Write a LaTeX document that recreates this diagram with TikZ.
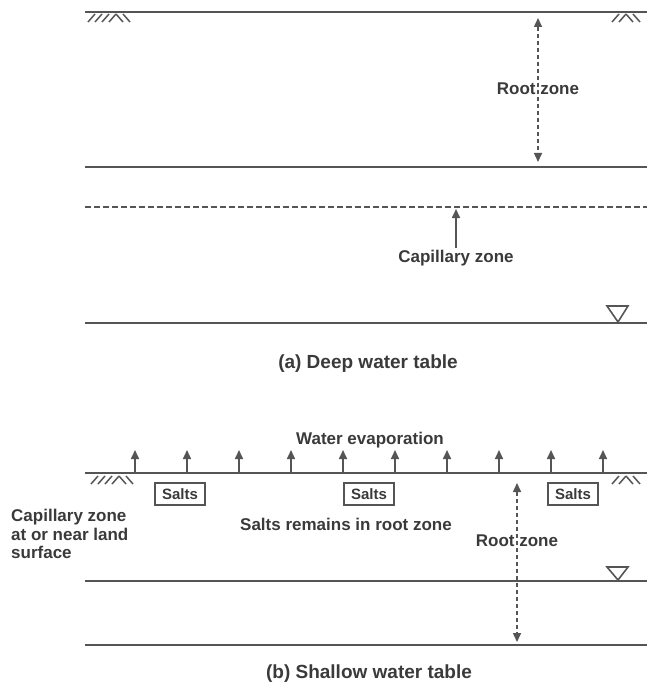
\documentclass[tikz,border=0pt]{standalone}
\usepackage{fontspec}
\setmainfont{Liberation Sans}
\usetikzlibrary{arrows.meta}
\definecolor{ink}{HTML}{3A3A3A}
\definecolor{ln}{HTML}{555555}
\tikzset{
  ground/.style={line width=1.8pt, draw=ln},
  capline/.style={line width=1.5pt, draw=ln, dash pattern=on 6pt off 3pt},
  hatchline/.style={line width=1.5pt, draw=ln},
  lbl/.style={font=\fontsize{17}{19}\selectfont\bfseries, text=ink, inner sep=0pt},
  caption/.style={font=\fontsize{19}{21}\selectfont\bfseries, text=ink, inner sep=0pt},
  saltbox/.style={draw=ln, line width=1.5pt, font=\fontsize{15}{17}\selectfont\bfseries, text=ink, minimum width=50pt, minimum height=22pt, inner sep=1pt},
  uparrow/.style={line width=1.6pt, draw=ln, -{Triangle[length=9pt,width=8pt]}},
  rootarrow/.style={line width=1.5pt, draw=ln, dash pattern=on 4.5pt off 2.5pt, {Triangle[length=9pt,width=8pt]}-{Triangle[length=9pt,width=8pt]}},
  wt/.style={draw=ln, line width=1.6pt, fill=white}
}
\begin{document}
\begin{tikzpicture}[x=1pt,y=-1pt]
\useasboundingbox (0,0) rectangle (647,695);
% ---------- (a) Deep water table ----------
\coordinate (a1l) at (85,12);  \coordinate (a1r) at (647,12);
\coordinate (a2l) at (85,167); \coordinate (a2r) at (647,167);
\coordinate (a3l) at (85,207); \coordinate (a3r) at (647,207);
\coordinate (a4l) at (85,323); \coordinate (a4r) at (647,323);
\draw[ground] (a1l) -- (a1r);
\draw[ground] (a2l) -- (a2r);
\draw[capline] (a3l) -- (a3r);
\draw[ground] (a4l) -- (a4r);
% hatches top
\foreach \x in {88,95,102,109} \draw[hatchline] (\x,22) -- (\x+7,14);
\foreach \x in {116,123} \draw[hatchline] (\x,14) -- (\x+7,22);
\foreach \x in {612,619} \draw[hatchline] (\x,22) -- (\x+7,14);
\foreach \x in {626,633} \draw[hatchline] (\x,14) -- (\x+7,22);
% root zone arrow
\coordinate (ra1) at (538,18);
\coordinate (ra2) at (538,162);
\draw[rootarrow] (ra1) -- (ra2);
\node[lbl] (rootA) at (538,89) {Root zone};
% capillary arrow
\coordinate (ca0) at (456,248);
\coordinate (ca1) at (456,209);
\draw[uparrow] (ca0) -- (ca1);
\node[lbl] (capA) at (456,258) {Capillary zone};
% water table symbol
\draw[wt] (607,306) -- (628,306) -- (618,322) -- cycle;
\node[caption] (capa) at (368,364) {(a) Deep water table};
% ---------- (b) Shallow water table ----------
\coordinate (b1l) at (85,473); \coordinate (b1r) at (647,473);
\coordinate (b2l) at (85,581); \coordinate (b2r) at (647,581);
\coordinate (b3l) at (85,645); \coordinate (b3r) at (647,645);
\draw[ground] (b1l) -- (b1r);
\draw[ground] (b2l) -- (b2r);
\draw[ground] (b3l) -- (b3r);
\foreach \x in {91,98,105,112} \draw[hatchline] (\x,484) -- (\x+7,476);
\foreach \x in {119,126} \draw[hatchline] (\x,476) -- (\x+7,484);
\foreach \x in {612,619} \draw[hatchline] (\x,484) -- (\x+7,476);
\foreach \x in {626,633} \draw[hatchline] (\x,476) -- (\x+7,484);
\node[lbl] (evap) at (370,440) {Water evaporation};
\foreach \x [count=\i] in {135,187,239,291,343,395,447,499,551,603} {
  \coordinate (ev\i a) at (\x,472);
  \coordinate (ev\i b) at (\x,450);
  \draw[uparrow] (ev\i a) -- (ev\i b);
}
\node[saltbox] (s1) at (180,494) {Salts};
\node[saltbox] (s2) at (369,494) {Salts};
\node[saltbox] (s3) at (573,494) {Salts};
\node[lbl] (remain) at (346,524) {Salts remains in root zone};
\node[lbl, anchor=west, align=left, font=\fontsize{17}{18.5}\selectfont\bfseries] (capB) at (11,534) {Capillary zone\\at or near land\\surface};
\coordinate (rb1) at (517,483);
\coordinate (rb2) at (517,642);
\draw[rootarrow] (rb1) -- (rb2);
\node[lbl] (rootB) at (517,541) {Root zone};
\draw[wt] (607,567) -- (628,567) -- (618,580) -- cycle;
\node[caption] (capb) at (369,674) {(b) Shallow water table};
\end{tikzpicture}
\end{document}
